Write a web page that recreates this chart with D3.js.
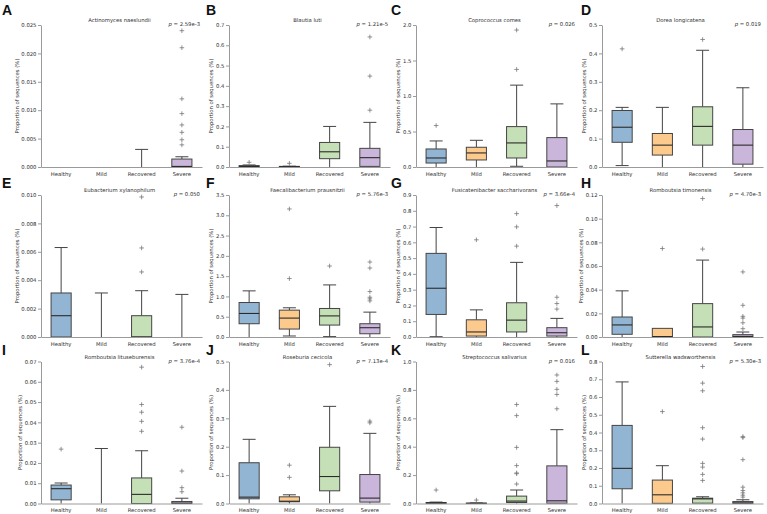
<!DOCTYPE html>
<html><head><meta charset="utf-8">
<script src="https://cdn.jsdelivr.net/npm/d3@7"></script>
<style>body{margin:0;background:#fff}svg{display:block}</style>
</head><body><svg id="chart" width="767" height="514"></svg>
<script>
const categories = ["Healthy", "Mild", "Recovered", "Severe"];
const colors = ["#92b5d3", "#fdca8e", "#c5e0b6", "#cbb6db"];
const panelLetters = ["A","B","C","D","E","F","G","H","I","J","K","L"];
const titles = ["Actinomyces naeslundii","Blautia luti","Coprococcus comes","Dorea longicatena",
  "Eubacterium xylanophilum","Faecalibacterium prausnitzii","Fusicatenibacter saccharivorans","Romboutsia timonensis",
  "Romboutsia lituseburensis","Roseburia cecicola","Streptococcus salivarius","Sutterella wadsworthensis"];
const pValues = ["2.59e-3","1.21e-5","0.026","0.019","0.050","5.76e-3","3.66e-4","4.70e-3","3.76e-4","7.13e-4","0.016","5.30e-3"];
const yMax = [0.025, 0.7, 2.0, 0.5, 0.010, 3.5, 0.9, 0.12, 0.07, 0.5, 1.0, 0.8];
const yStep = [0.005, 0.1, 0.5, 0.1, 0.002, 0.5, 0.1, 0.02, 0.01, 0.1, 0.2, 0.1];
const yDecimals = [3, 1, 1, 1, 3, 1, 1, 2, 2, 1, 1, 1];

// [whiskerLow, q1, median, q3, whiskerHigh] for Healthy, Mild, Recovered, Severe
const boxA = [[0,0,0,0,0],[0,0,0,0,0],[0,0,0,0,0.0031],[0,0,0.0001,0.0014,0.0018]];
const outA = [[],[],[],[0.024,0.021,0.012,0.0094,0.0074,0.0061,0.0048,0.0039]];
const boxB = [[0,0,0.002,0.007,0.01],[0,0,0.001,0.003,0.004],[0,0.041,0.075,0.121,0.20],[0,0.003,0.046,0.092,0.22]];
const outB = [[0.023],[0.018],[],[0.28,0.448,0.641]];
const boxC = [[0,0.056,0.127,0.254,0.367],[0,0.099,0.198,0.278,0.376],[0.01,0.127,0.339,0.569,1.153],[0,0,0.085,0.414,0.889]];
const outC = [[0.584],[],[1.374,1.929],[]];
const boxD = [[0.005,0.087,0.140,0.199,0.210],[0,0.042,0.077,0.118,0.21],[0,0.077,0.143,0.212,0.411],[0,0.010,0.077,0.132,0.279]];
const outD = [[0.416],[],[0.449],[]];
const boxE = [[0,0,0.0015,0.0031,0.0063],[0,0,0,0,0.0031],[0,0,0,0.0015,0.00326],[0,0,0,0,0.0030]];
const outE = [[],[],[0.00458,0.00627,0.00986],[]];
const boxF = [[0,0.327,0.58,0.85,1.137],[0.025,0.196,0.466,0.662,0.72],[0.01,0.294,0.52,0.703,1.284],[0,0.08,0.229,0.327,0.613]];
const outF = [[],[1.44,3.156],[1.75],[1.848,1.70,1.12,0.98,0.94,0.89]];
const boxG = [[0.002,0.143,0.309,0.530,0.694],[0,0.006,0.032,0.109,0.172],[0,0.032,0.107,0.217,0.473],[0,0.006,0.027,0.059,0.118]];
const outG = [[],[0.616],[0.782,0.698,0.576],[0.833,0.252,0.212,0.177]];
const boxH = [[0,0.0023,0.0102,0.0169,0.039],[0,0,0.0004,0.0073,0.0073],[0,0,0.0085,0.0282,0.065],[0,0,0.0005,0.002,0.0042]];
const outH = [[],[0.0748],[0.0743,0.117],[0.055,0.0268,0.0175,0.016,0.012,0.007]];
const boxI = [[0,0.0018,0.0073,0.0091,0.0101],[0,0,0,0,0.0271],[0,0,0.0045,0.0126,0.026],[0,0,0.0002,0.001,0.0026]];
const outI = [[0.0268],[],[0.0672,0.0488,0.045,0.0405,0.0356],[0.0376,0.016,0.0078,0.0058]];
const boxJ = [[0,0.0165,0.0224,0.1435,0.226],[0,0.006,0.008,0.0235,0.0306],[0,0.0447,0.095,0.198,0.342],[0,0.005,0.019,0.102,0.247]];
const outJ = [[],[0.135,0.092],[0.489],[0.29,0.284]];
const boxK = [[0,0.001,0.003,0.007,0.01],[0,0,0.001,0.003,0.004],[0,0.007,0.017,0.052,0.095],[0,0.002,0.019,0.265,0.52]];
const outK = [[0.095],[0.024],[0.137,0.21,0.215,0.267,0.395,0.619,0.697],[0.667,0.768,0.804,0.86,0.905]];
const boxL = [[0,0.083,0.198,0.44,0.685],[0,0.001,0.049,0.132,0.213],[0,0.002,0.026,0.03,0.038],[0,0.001,0.003,0.011,0.021]];
const outL = [[],[0.518],[0.772,0.678,0.635,0.427,0.363,0.226,0.205,0.164,0.13],[0.371,0.377,0.247,0.092,0.073,0.06,0.047,0.036]];

const boxes = [boxA,boxB,boxC,boxD,boxE,boxF,boxG,boxH,boxI,boxJ,boxK,boxL];
const outliers = [outA,outB,outC,outD,outE,outF,outG,outH,outI,outJ,outK,outL];

const svg = d3.select("#chart");
const colLeft = [41, 229, 416, 602], rowTop = [25, 195, 361.5];
const plotW = 161, plotH = 142;
const letterX = [2, 206, 391, 581], letterY = [15, 188, 355];
const FONT = "DejaVu Sans, sans-serif", FS = 5.3;
const textCol = "#2e2e2e", spineCol = "#9a9a9a", lineCol = "#444";

boxes.forEach((stats, i) => {
  const c = i % 4, r = Math.floor(i / 4);
  const g = svg.append("g").attr("transform", `translate(${colLeft[c]},${rowTop[r]})`);
  const x = d3.scaleBand().domain(categories).range([0, plotW]);
  const y = d3.scaleLinear().domain([0, yMax[i]]).range([plotH, 0]);
  const ticks = d3.range(0, yMax[i] + yStep[i] / 2, yStep[i]);

  const ay = g.append("g").call(d3.axisLeft(y).tickValues(ticks)
      .tickFormat(d3.format(`.${yDecimals[i]}f`)).tickSize(3).tickSizeOuter(0).tickPadding(1.5));
  ay.select(".domain").attr("stroke", spineCol);
  ay.selectAll(".tick line").attr("stroke", spineCol);
  ay.selectAll("text").attr("font-family", FONT).attr("font-size", FS).attr("fill", textCol);
  let maxW = 0;
  ay.selectAll("text").each(function(){ maxW = Math.max(maxW, this.getBBox().width); });

  const gb = g.append("g");

  const ax = g.append("g").attr("transform", `translate(0,${plotH})`)
    .call(d3.axisBottom(x).tickSize(0).tickSizeOuter(0).tickPadding(5));
  ax.select(".domain").attr("stroke", spineCol);
  ax.selectAll("text").attr("font-family", FONT).attr("font-size", FS).attr("fill", textCol);

  g.append("text").attr("transform", `translate(${-maxW - 6.5},${plotH / 2}) rotate(-90)`)
    .attr("text-anchor", "middle").attr("font-family", FONT).attr("font-size", FS).attr("fill", textCol)
    .text("Proportion of sequences (%)");
  g.append("text").attr("x", plotW / 2 - 2).attr("y", -3).attr("text-anchor", "middle")
    .attr("font-family", FONT).attr("font-size", FS).attr("fill", textCol).text(titles[i]);
  const pt = g.append("text").attr("x", plotW - 2).attr("y", 1).attr("text-anchor", "end")
    .attr("font-family", FONT).attr("font-size", FS).attr("fill", textCol);
  pt.append("tspan").attr("font-style", "italic").text("p");
  pt.append("tspan").text(" = " + pValues[i]);

  const bw = x.bandwidth() * 0.5, cw = 13;
  categories.forEach((cat, k) => {
    const s = stats[k];
    const cx = x(cat) + x.bandwidth() / 2;
    const gg = gb.append("g");
    if (s[4] > s[3]) {
      gg.append("line").attr("x1", cx).attr("x2", cx).attr("y1", y(s[3])).attr("y2", y(s[4]))
        .attr("stroke", lineCol).attr("stroke-width", 1);
      gg.append("line").attr("x1", cx - cw / 2).attr("x2", cx + cw / 2).attr("y1", y(s[4])).attr("y2", y(s[4]))
        .attr("stroke", lineCol).attr("stroke-width", 1);
    }
    if (s[1] > s[0]) {
      gg.append("line").attr("x1", cx).attr("x2", cx).attr("y1", y(s[0])).attr("y2", y(s[1]))
        .attr("stroke", lineCol).attr("stroke-width", 1);
    }
    if (s[0] > 0) {
      gg.append("line").attr("x1", cx - cw / 2).attr("x2", cx + cw / 2).attr("y1", y(s[0])).attr("y2", y(s[0]))
        .attr("stroke", lineCol).attr("stroke-width", 1);
    }
    if (s[3] > s[1]) {
      gg.append("rect").attr("x", cx - bw / 2).attr("width", bw)
        .attr("y", y(s[3])).attr("height", y(s[1]) - y(s[3]))
        .attr("fill", colors[k]).attr("stroke", lineCol).attr("stroke-width", 1);
      gg.append("line").attr("x1", cx - bw / 2).attr("x2", cx + bw / 2).attr("y1", y(s[2])).attr("y2", y(s[2]))
        .attr("stroke", "#2a2a2a").attr("stroke-width", 1.1);
    }
    gg.selectAll("path.out").data(outliers[i][k]).join("path").attr("class", "out")
      .attr("transform", d => `translate(${cx},${y(d)})`)
      .attr("d", "M-2.3,0H2.3M0,-2.3V2.3").attr("stroke", "#777").attr("stroke-width", 0.8).attr("fill", "none");
  });

  svg.append("text").attr("x", letterX[c]).attr("y", letterY[r])
    .attr("font-family", "Liberation Sans, Arial, sans-serif").attr("font-weight", "bold")
    .attr("font-size", 14).attr("fill", "#111").text(panelLetters[i]);
});
</script></body></html>
